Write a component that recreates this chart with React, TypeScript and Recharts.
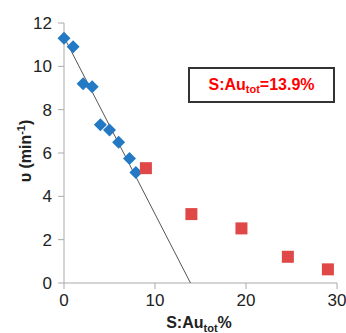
import React from "react";
import { ScatterChart, Scatter, XAxis, YAxis } from "recharts";

// blue diamonds (fitted region)
const blueX = [0, 1, 2.1, 3.1, 4, 5, 6, 7.2, 7.9];
const blueY = [11.3, 10.9, 9.2, 9.06, 7.3, 7.06, 6.5, 5.75, 5.1];
// red squares
const redX = [9, 14, 19.5, 24.6, 29];
const redY = [5.3, 3.18, 2.52, 1.21, 0.63];
// linear fit, x-intercept 13.9
const fitX = [0, 13.9];
const fitY = [11.35, 0];

const xTicks = [0, 10, 20, 30];
const yTicks = [0, 2, 4, 6, 8, 10, 12];

const blue = blueX.map((x, i) => ({ x, y: blueY[i] }));
const red = redX.map((x, i) => ({ x, y: redY[i] }));
const fit = fitX.map((x, i) => ({ x, y: fitY[i] }));

const Diamond = (p: any) => {
  const { cx, cy } = p;
  const r = 6.5;
  return <polygon points={`${cx},${cy - r} ${cx + r},${cy} ${cx},${cy + r} ${cx - r},${cy}`} fill="#2479c4" />;
};

const Square = (p: any) => {
  const { cx, cy } = p;
  return <rect x={cx - 6} y={cy - 6} width={12} height={12} fill="#e04848" />;
};

const font = "'Liberation Sans', Arial, sans-serif";
const tick = { fill: "#222", fontSize: 17, fontFamily: font };

const YLabel = () => (
  <text
    transform="translate(31,151) rotate(-90)"
    textAnchor="middle"
    fontFamily={font}
    fontSize={16}
    fontWeight="bold"
    fill="#222"
  >
    υ (min<tspan dy={-6} fontSize={11}>-1</tspan><tspan dy={6}>)</tspan>
  </text>
);

const XLabel = () => (
  <text x={199} y={328} textAnchor="middle" fontFamily={font} fontSize={16} fontWeight="bold" fill="#222">
    S:Au<tspan dy={4} fontSize={11}>tot</tspan><tspan dy={-4}>%</tspan>
  </text>
);

export default function App() {
  return (
    <div style={{ position: "absolute", left: 0, top: 0, width: 346, height: 333, background: "#fff" }}>
      <ScatterChart width={346} height={333} margin={{ top: 23, right: 9, bottom: 0, left: 0 }}>
        <XAxis
          type="number"
          dataKey="x"
          domain={[0, 30]}
          ticks={xTicks}
          tick={tick}
          stroke="#aaa"
          tickSize={6}
          tickMargin={5}
          height={50}
          label={<XLabel />}
        />
        <YAxis
          type="number"
          dataKey="y"
          domain={[0, 12]}
          ticks={yTicks}
          tick={tick}
          stroke="#aaa"
          tickSize={6}
          tickMargin={6}
          width={64}
          label={<YLabel />}
        />
        <Scatter data={fit} line={{ stroke: "#555", strokeWidth: 1 }} shape={() => <g />} isAnimationActive={false} />
        <Scatter data={blue} shape={Diamond} isAnimationActive={false} />
        <Scatter data={red} shape={Square} isAnimationActive={false} />
      </ScatterChart>
      <div
        style={{
          position: "absolute",
          left: 188,
          top: 67,
          width: 143,
          height: 32,
          border: "2px solid #333",
          display: "flex",
          alignItems: "center",
          justifyContent: "center",
          fontFamily: font,
          fontSize: 16,
          fontWeight: "bold",
          color: "#f00",
          background: "#fff",
        }}
      >
        <span>
          S:Au<sub style={{ fontSize: 11, verticalAlign: "-3px" }}>tot</sub>=13.9%
        </span>
      </div>
    </div>
  );
}
